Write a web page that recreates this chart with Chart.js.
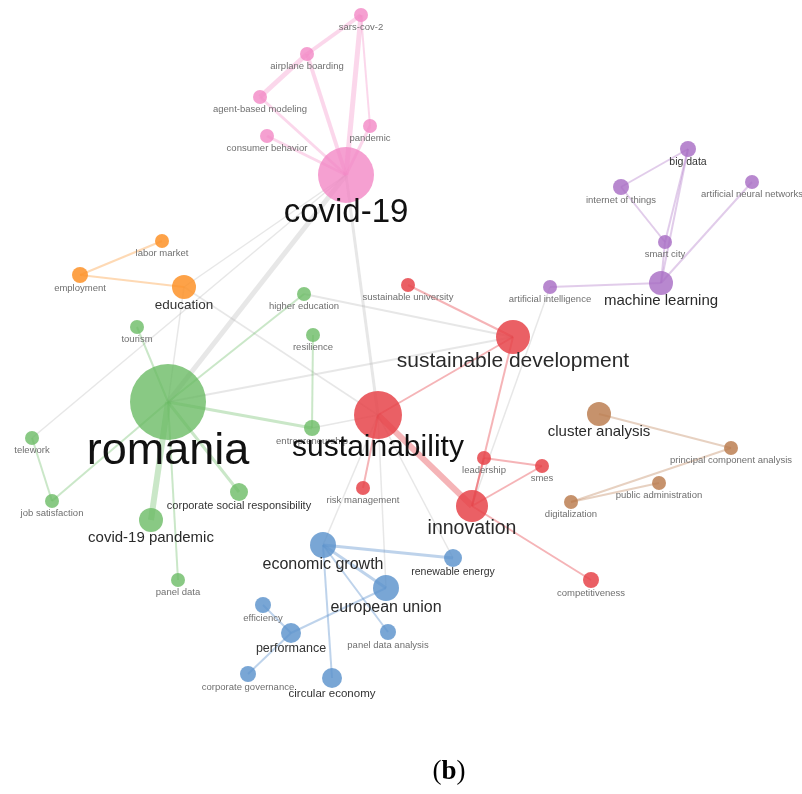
<!DOCTYPE html>
<html>
<head>
<meta charset="utf-8">
<title>keyword network (b)</title>
<script src="https://cdn.jsdelivr.net/npm/chart.js@4.4.1/dist/chart.umd.min.js"></script>
<style>
  html, body { margin: 0; padding: 0; background: #fff; }
  #wrap { position: relative; width: 802px; height: 794px; }
</style>
</head>
<body>
<div id="wrap"><canvas id="netChart"></canvas></div>
<script>
// ---------------- data ----------------
const nodeLabels = [
  'covid-19', 'sars-cov-2', 'airplane boarding', 'agent-based modeling', 'consumer behavior', 'pandemic',
  'labor market', 'employment', 'education',
  'romania', 'higher education', 'resilience', 'tourism', 'entrepreneurship', 'telework',
  'job satisfaction', 'corporate social responsibility', 'covid-19 pandemic', 'panel data',
  'sustainability', 'sustainable development', 'sustainable university', 'leadership', 'smes',
  'risk management', 'innovation', 'competitiveness',
  'big data', 'internet of things', 'artificial neural networks', 'smart city', 'machine learning',
  'artificial intelligence',
  'cluster analysis', 'principal component analysis', 'public administration', 'digitalization',
  'economic growth', 'renewable energy', 'european union', 'efficiency', 'performance',
  'panel data analysis', 'corporate governance', 'circular economy'
];
// layout coordinates of each keyword
const nodeX = [346, 361, 307, 260, 267, 370, 162, 80, 184, 168, 304, 313, 137, 312, 32, 52, 239, 151, 178,
  378, 513, 408, 484, 542, 363, 472, 591, 688, 621, 752, 665, 661, 550, 599, 731, 659, 571,
  323, 453, 386, 263, 291, 388, 248, 332];
const nodeY = [175, 15, 54, 97, 136, 126, 241, 275, 287, 402, 294, 335, 327, 428, 438, 501, 492, 520, 580,
  415, 337, 285, 458, 466, 488, 506, 580, 149, 187, 182, 242, 283, 287, 414, 448, 483, 502,
  545, 558, 588, 605, 633, 632, 674, 678];
// occurrence weight (bubble radius)
const nodeWeight = [28, 7, 7, 7, 7, 7, 7, 8, 12, 38, 7, 7, 7, 8, 7, 7, 9, 12, 7,
  24, 17, 7, 7, 7, 7, 16, 8, 8, 8, 7, 7, 12, 7, 12, 7, 7, 7,
  13, 9, 13, 8, 10, 8, 8, 10];
const nodeCluster = [0, 0, 0, 0, 0, 0, 1, 1, 1, 2, 2, 2, 2, 2, 2, 2, 2, 2, 2,
  3, 3, 3, 3, 3, 3, 3, 3, 4, 4, 4, 4, 4, 4, 5, 5, 5, 5,
  6, 6, 6, 6, 6, 6, 6, 6];

const edgeSource = [0, 0, 0, 0, 0, 1, 2, 1,  6, 7,  9, 9, 9, 9, 9, 9, 9, 14, 11,
  19, 19, 19, 20, 20, 22, 22, 23, 25,  31, 31, 31, 31, 27, 27, 28,  33, 34, 36,
  37, 37, 37, 37, 39, 41, 41,
  0, 0, 0, 0, 8, 8, 9, 10, 13, 19, 19, 19, 32];
const edgeTarget = [1, 2, 3, 4, 5, 2, 3, 5,  7, 8,  12, 10, 13, 15, 17, 18, 16, 15, 13,
  20, 24, 25, 21, 25, 25, 23, 25, 26,  32, 27, 30, 29, 28, 30, 30,  34, 36, 35,
  38, 39, 42, 44, 41, 40, 43,
  9, 19, 8, 14, 9, 19, 20, 20, 19, 37, 39, 38, 25];
const edgeWeight = [5, 4, 3, 3, 3, 4, 5, 2,  2, 2,  2, 2, 3, 2, 6, 2, 3, 2, 2,
  2, 2, 6, 2, 2, 2, 2, 2, 2,  2, 2, 2, 2, 2, 2, 2,  2, 2, 2,
  3, 3, 2, 2, 2, 2, 2,
  5, 3, 1.5, 1.5, 1.5, 1.5, 2, 2, 1.5, 1.5, 1.5, 1.5, 1.5];

// ---------------- styles ----------------
const clusterFill = [
  'rgba(243,136,198,0.8)',  // pink
  'rgba(253,146,40,0.85)',  // orange
  'rgba(104,186,98,0.78)',  // green
  'rgba(230,68,74,0.85)',   // red
  'rgba(168,110,196,0.82)', // purple
  'rgba(186,122,76,0.82)',  // brown
  'rgba(92,146,204,0.82)'   // blue
];
const clusterEdge = [
  'rgba(244,140,198,0.35)',
  'rgba(253,146,40,0.35)',
  'rgba(104,186,98,0.35)',
  'rgba(230,68,74,0.4)',
  'rgba(168,110,196,0.35)',
  'rgba(186,122,76,0.35)',
  'rgba(92,146,204,0.4)'
];
const greyEdge = 'rgba(175,175,175,0.3)';

const labelSize = [33, 9.5, 9.5, 9.5, 9.5, 9.5, 9.5, 9.5, 13.5, 45, 9.5, 9.5, 9.5, 9.5, 9.5, 9.5, 11, 15, 9.5,
  30, 21, 9.5, 9.5, 9.5, 9.5, 19.5, 9.5, 10.5, 9.5, 9.5, 9.5, 15, 9.5, 15, 9.5, 9.5, 9.5,
  16, 10.5, 16, 9.5, 12.5, 9.5, 9.5, 11.5];

function labelColor(fs) {
  if (fs >= 28) return '#111';
  if (fs >= 14) return '#2a2a2a';
  if (fs >= 10.5) return '#333';
  return '#6f6f6f';
}

// ---------------- datasets ----------------
const edgeSets = edgeSource.map((s, k) => {
  const t = edgeTarget[k];
  const same = nodeCluster[s] === nodeCluster[t];
  return {
    type: 'line',
    data: [{ x: nodeX[s], y: nodeY[s] }, { x: nodeX[t], y: nodeY[t] }],
    borderColor: same ? clusterEdge[nodeCluster[s]] : greyEdge,
    borderWidth: edgeWeight[k],
    pointRadius: 0,
    fill: false,
    tension: 0,
    clip: false,
    order: 2
  };
});

const nodeSet = {
  type: 'bubble',
  data: nodeLabels.map((_, i) => ({ x: nodeX[i], y: nodeY[i], r: nodeWeight[i] })),
  backgroundColor: nodeLabels.map((_, i) => clusterFill[nodeCluster[i]]),
  borderWidth: 0,
  hoverRadius: 0,
  clip: false,
  order: 1
};

// ---------------- plugins ----------------
const labelPlugin = {
  id: 'nodeLabels',
  afterDatasetsDraw(chart) {
    const { ctx, scales } = chart;
    const idx = nodeLabels.map((_, i) => i).sort((a, b) => labelSize[a] - labelSize[b]);
    ctx.save();
    ctx.textAlign = 'center';
    ctx.textBaseline = 'middle';
    idx.forEach(i => {
      const fs = labelSize[i];
      const px = scales.x.getPixelForValue(nodeX[i]);
      const py = scales.y.getPixelForValue(nodeY[i]);
      const dy = nodeWeight[i] + 3.25 + 0.194 * fs;
      ctx.font = fs + 'px "Liberation Sans", Arial, sans-serif';
      ctx.fillStyle = labelColor(fs);
      ctx.fillText(nodeLabels[i], px, py + dy);
    });
    ctx.restore();
  }
};

const captionPlugin = {
  id: 'caption',
  afterDraw(chart) {
    const ctx = chart.ctx;
    const parts = [['(', 'normal'], ['b', 'bold'], [')', 'normal']];
    ctx.save();
    ctx.textBaseline = 'alphabetic';
    ctx.fillStyle = '#000';
    let total = 0;
    parts.forEach(p => {
      ctx.font = p[1] + ' 27px "Liberation Serif", "DejaVu Serif", serif';
      total += ctx.measureText(p[0]).width;
    });
    let x = 449 - total / 2;
    parts.forEach(p => {
      ctx.font = p[1] + ' 27px "Liberation Serif", "DejaVu Serif", serif';
      ctx.textAlign = 'left';
      ctx.fillText(p[0], x, 779);
      x += ctx.measureText(p[0]).width;
    });
    ctx.restore();
  }
};

// ---------------- chart ----------------
new Chart(document.getElementById('netChart'), {
  type: 'bubble',
  data: { datasets: [nodeSet, ...edgeSets] },
  options: {
    responsive: true,
    maintainAspectRatio: false,
    animation: false,
    events: [],
    layout: { padding: 0, autoPadding: false },
    scales: {
      x: { type: 'linear', min: 0, max: 802, display: false },
      y: { type: 'linear', min: 0, max: 794, reverse: true, display: false }
    },
    plugins: {
      legend: { display: false },
      tooltip: { enabled: false }
    }
  },
  plugins: [labelPlugin, captionPlugin]
});
</script>
</body>
</html>
